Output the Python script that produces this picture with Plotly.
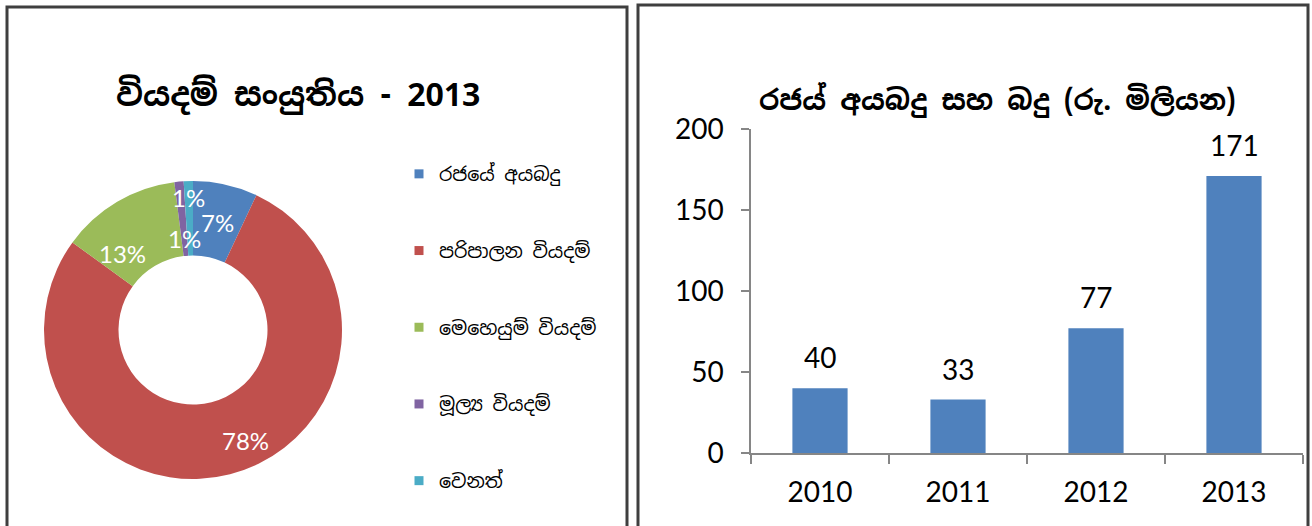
import math
import plotly.graph_objects as go

# ---- data ----
pie_labels = ["රජයේ අයබදු", "පරිපාලන වියදම්", "මෙහෙයුම් වියදම්", "මූල්‍ය වියදම්", "වෙනත්"]
pie_values = [7, 78, 13, 1, 1]
pie_colors = ["#4F81BD", "#C0504D", "#9BBB59", "#8064A2", "#4BACC6"]

years = ["2010", "2011", "2012", "2013"]
revenue = [40, 33, 77, 171]
y_ticks = [0, 50, 100, 150, 200]

title_left = "වියදම් සංයුතිය - 2013"
title_right = "රජය් අයබදු සහ බදු (රු. මිලියන)"

W, H = 1312, 526
SIN = "Noto Sans Sinhala, Iskoola Pota, Noto Serif Sinhala, sans-serif"
LAT = "Lato, Open Sans, sans-serif"

# label placement style (radius as fraction of outer radius, angular nudge in degrees)
label_radius = [0.74, 0.82, 0.70, 0.62, 0.89]
label_nudge = [0, -11, -12, 0, 0]


def px(x):
    return x / W


def py(y):
    return 1 - y / H


fig = go.Figure()

# donut
cx, cy, R = 193, 330, 149
total = sum(pie_values)
fig.add_trace(go.Pie(
    labels=pie_labels, values=pie_values, hole=0.5, sort=False,
    direction="clockwise", rotation=0,
    marker=dict(colors=pie_colors, line=dict(color="white", width=0)),
    textinfo="none",
    domain=dict(x=[px(cx - R), px(cx + R)], y=[py(cy + R), py(cy - R)]),
    showlegend=False, hoverinfo="label+percent",
))

# percentage labels, placed along each slice's bisector
cum = 0
for i, v in enumerate(pie_values):
    mid = math.radians((cum + v / 2) / total * 360 + label_nudge[i])
    cum += v
    r = R * label_radius[i]
    lx = cx + r * math.sin(mid)
    ly = cy - r * math.cos(mid)
    fig.add_annotation(x=px(lx), y=py(ly), xref="paper", yref="paper",
                       text=f"{round(100 * v / total)}%", showarrow=False,
                       font=dict(size=24, family=LAT, color="white"),
                       xanchor="center", yanchor="middle")

# legend entries (one group each so items can be spaced like the original)
for lab, col in zip(pie_labels, pie_colors):
    fig.add_trace(go.Scatter(
        x=[None], y=[None], mode="markers", name=lab, legendgroup=lab,
        marker=dict(symbol="square", size=9, color=col),
        xaxis="x2", yaxis="y2", hoverinfo="skip",
    ))

# bars
fig.add_trace(go.Bar(
    x=years, y=revenue, width=0.4, marker=dict(color="#4F81BD", line=dict(width=0)),
    showlegend=False, hoverinfo="x+y", xaxis="x", yaxis="y",
))

# value labels above bars (x given as category index on the category axis)
for i, v in enumerate(revenue):
    fig.add_annotation(x=i, y=v, xref="x", yref="y", text=str(v), showarrow=False,
                       yshift=31, font=dict(size=28, family=LAT, color="#000000"))

# titles
fig.add_annotation(x=px(298), y=py(95), xref="paper", yref="paper", text="<b>" + title_left + "</b>",
                   showarrow=False, font=dict(size=32, family=SIN, color="#000000"),
                   xanchor="center", yanchor="middle")
fig.add_annotation(x=px(997), y=py(100), xref="paper", yref="paper", text="<b>" + title_right + "</b>",
                   showarrow=False, font=dict(size=28, family=SIN, color="#000000"),
                   xanchor="center", yanchor="middle")

# panel borders
fig.add_shape(type="rect", xref="paper", yref="paper", x0=px(7), x1=px(627), y0=py(540), y1=py(7),
              line=dict(color="#3F3F3F", width=3), fillcolor="rgba(0,0,0,0)")
fig.add_shape(type="rect", xref="paper", yref="paper", x0=px(638), x1=px(1308), y0=py(540), y1=py(5),
              line=dict(color="#3F3F3F", width=3), fillcolor="rgba(0,0,0,0)")

axis_gray = "#868686"
fig.update_layout(
    width=W, height=H, margin=dict(l=0, r=0, t=0, b=0, autoexpand=False),
    paper_bgcolor="white", plot_bgcolor="rgba(0,0,0,0)",
    xaxis=dict(domain=[px(751), px(1303)], type="category", categoryorder="array",
               categoryarray=years, range=[-0.5, len(years) - 0.5], showgrid=False,
               showline=True, linecolor=axis_gray, linewidth=1.5,
               ticks="outside", tickson="boundaries", ticklen=9, tickcolor=axis_gray, tickwidth=1.5,
               tickfont=dict(size=28, family=LAT, color="#000000"), ticklabelstandoff=14,
               tickangle=0, fixedrange=True, zeroline=False),
    yaxis=dict(domain=[py(453), py(129)], range=[0, 200], tickvals=y_ticks, showgrid=False,
               showline=True, linecolor=axis_gray, linewidth=1.5,
               ticks="outside", ticklen=8, tickcolor=axis_gray, tickwidth=1.5,
               tickfont=dict(size=28, family=LAT, color="#000000"), ticklabelstandoff=12,
               zeroline=False, fixedrange=True),
    xaxis2=dict(domain=[0, 0.01], anchor="y2", visible=False, fixedrange=True),
    yaxis2=dict(domain=[0, 0.01], anchor="x2", visible=False, fixedrange=True),
    legend=dict(x=px(399), y=py(155), xanchor="left", yanchor="top", tracegroupgap=49,
                font=dict(size=19, family=SIN, color="#000000"), bgcolor="rgba(0,0,0,0)",
                itemclick=False, itemdoubleclick=False),
    showlegend=True,
)

fig.write_html("out.html", config={"displayModeBar": False},
               post_script="document.body.style.margin='0';document.body.style.overflow='hidden';")
